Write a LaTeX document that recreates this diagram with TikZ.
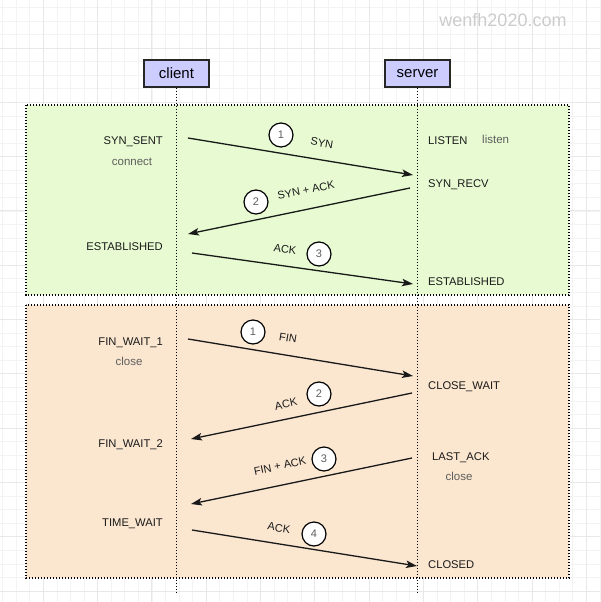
\documentclass[tikz,border=0pt]{standalone}
\usepackage{fontspec}
\setmainfont{Liberation Sans}
\usetikzlibrary{arrows.meta}
\definecolor{gridminor}{HTML}{F3F3F3}
\definecolor{gridmajor}{HTML}{E8E8E8}
\definecolor{greenbg}{HTML}{E7FAD1}
\definecolor{orangebg}{HTML}{FBE6D0}
\definecolor{boxblue}{HTML}{CCCCFF}
\definecolor{statetext}{HTML}{1A1A1A}
\definecolor{graytext}{HTML}{5E5E5E}
\definecolor{marktext}{HTML}{CCCCCC}
\tikzset{
  actor/.style={draw=black!85, fill=boxblue, line width=1.2pt, minimum width=65pt, minimum height=27pt, inner sep=0pt, font=\fontsize{15}{15}\selectfont},
  frame/.style={draw=black, line width=1.3pt, dash pattern=on 1.3pt off 1.7pt},
  lifeline/.style={draw=black, line width=1.3pt, dash pattern=on 1.3pt off 1.7pt},
  statel/.style={anchor=east, inner sep=0pt, text height=8pt, text depth=0pt, text=statetext, font=\fontsize{11.2}{11.2}\selectfont},
  stater/.style={anchor=west, inner sep=0pt, text height=8pt, text depth=0pt, text=statetext, font=\fontsize{11.2}{11.2}\selectfont},
  callt/.style={inner sep=0pt, text height=6pt, text depth=0pt, text=graytext, font=\fontsize{11.5}{11.5}\selectfont},
  msg/.style={draw=black!90, line width=1.3pt, -{Stealth[length=11pt,width=7.5pt,inset=2.5pt]}},
  msgl/.style={inner sep=0pt, text=statetext, font=\fontsize{11}{11}\selectfont},
  num/.style={circle, draw=black, fill=white, line width=1.2pt, minimum size=24pt, inner sep=0pt, text=graytext, font=\fontsize{11}{11}\selectfont}
}
\begin{document}
\begin{tikzpicture}[x=1pt,y=-1pt]
\useasboundingbox (0,0) rectangle (600,602);
\fill[white] (0,0) rectangle (600,602);
% grid
\foreach \i in {0,...,44} {
  \draw[gridminor, line width=0.7pt] ({2.58+13.575*\i},0) -- ({2.58+13.575*\i},602);
  \draw[gridminor, line width=0.7pt] (0,{7.3+13.575*\i}) -- (600,{7.3+13.575*\i});
}
\foreach \i in {-1,...,10} {
  \draw[gridmajor, line width=0.9pt] ({43.3+54.3*\i},0) -- ({43.3+54.3*\i},602);
  \draw[gridmajor, line width=0.9pt] (0,{48+54.3*\i}) -- (600,{48+54.3*\i});
}
% watermark
\node[text=marktext, font=\fontsize{18}{18}\selectfont, inner sep=0pt] (mark) at (503,20) {wenfh2020.com};
% frames
\fill[greenbg] (26,105) rectangle (569,295);
\fill[orangebg] (26,305) rectangle (569,578);
\draw[frame] (26,105) rectangle (569,295);
\draw[frame] (26,305) rectangle (569,578);
% actors
\node[actor] (client) at (176.5,73.5) {client};
\node[actor] (server) at (417.5,73.5) {server};
\coordinate (cend) at (176.5,592);
\coordinate (send) at (417.5,592);
\draw[lifeline] (client.south) -- (cend);
\draw[lifeline] (server.south) -- (send);
% states - handshake
\node[statel] (synsent) at (163,140) {SYN\_SENT};
\node[callt] (connect) at (132,162) {connect};
\node[statel] (estc) at (163,246) {ESTABLISHED};
\node[stater] (listen) at (428,140) {LISTEN};
\node[callt, anchor=west] (listenc) at (482,140.5) {listen};
\node[stater] (synrecv) at (428,183) {SYN\_RECV};
\node[stater] (ests) at (428,281) {ESTABLISHED};
% states - teardown
\node[statel] (fw1) at (163,341) {FIN\_WAIT\_1};
\node[callt] (closec) at (129,362) {close};
\node[statel] (fw2) at (163,443) {FIN\_WAIT\_2};
\node[statel] (tw) at (163,522) {TIME\_WAIT};
\node[stater] (cw) at (428,385) {CLOSE\_WAIT};
\node[stater] (la) at (432,456) {LAST\_ACK};
\node[callt] (closes) at (459,477) {close};
\node[stater] (closed) at (428,564) {CLOSED};
% message end points
\coordinate (m1a) at (188,138);  \coordinate (m1b) at (413,175);
\coordinate (m2a) at (410,188);  \coordinate (m2b) at (188,234);
\coordinate (m3a) at (192,253);  \coordinate (m3b) at (413,284);
\coordinate (f1a) at (188,339);  \coordinate (f1b) at (413,376);
\coordinate (f2a) at (412,393);  \coordinate (f2b) at (191,439);
\coordinate (f3a) at (412,458);  \coordinate (f3b) at (191,504);
\coordinate (f4a) at (192,530);  \coordinate (f4b) at (417,566);
% messages
\draw[msg] (m1a) -- (m1b);
\draw[msg] (m2a) -- (m2b);
\draw[msg] (m3a) -- (m3b);
\draw[msg] (f1a) -- (f1b);
\draw[msg] (f2a) -- (f2b);
\draw[msg] (f3a) -- (f3b);
\draw[msg] (f4a) -- (f4b);
% labels
\node[num] (n1) at (281,135) {1};
\node[msgl, rotate=-9.4] (l1) at (322,143) {SYN};
\node[num] (n2) at (256,202) {2};
\node[msgl, rotate=11.5] (l2) at (306,190) {SYN + ACK};
\node[num] (n3) at (319,254) {3};
\node[msgl, rotate=-8] (l3) at (285,249) {ACK};
\node[num] (p1) at (253,332) {1};
\node[msgl, rotate=-9.4] (k1) at (288,338) {FIN};
\node[num] (p2) at (319,394) {2};
\node[msgl, rotate=11.8] (k2) at (286,404) {ACK};
\node[num] (p3) at (324,459) {3};
\node[msgl, rotate=11.8] (k3) at (280,466) {FIN + ACK};
\node[num] (p4) at (314,534) {4};
\node[msgl, rotate=-9.1] (k4) at (279,528) {ACK};
\end{tikzpicture}
\end{document}
